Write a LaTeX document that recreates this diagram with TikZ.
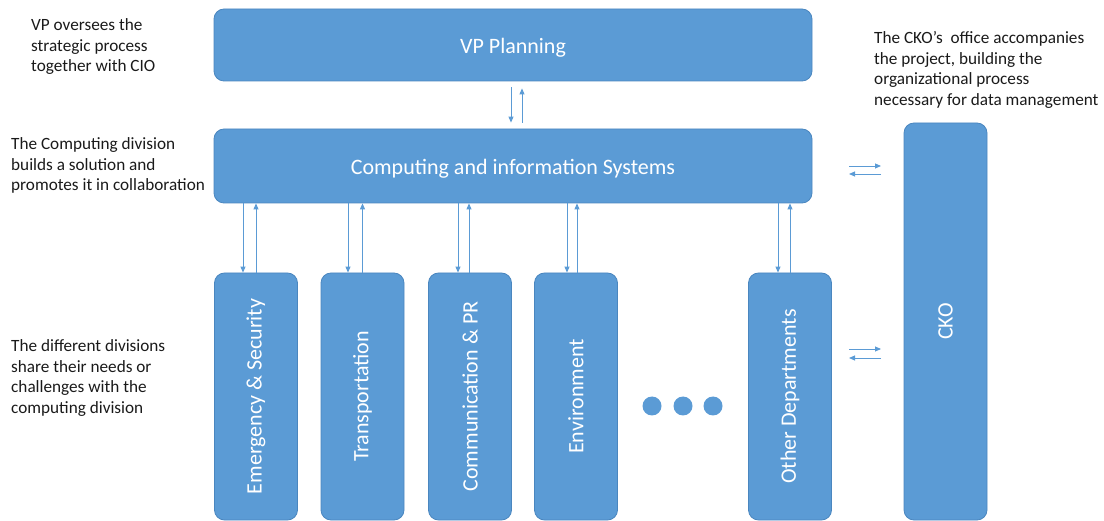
\documentclass[tikz,border=0pt]{standalone}
\usepackage{fontspec}
\setmainfont{Carlito}
\usetikzlibrary{arrows.meta}
\definecolor{boxfill}{HTML}{5B9BD5}
\definecolor{boxline}{HTML}{4A86BF}
\definecolor{arrcol}{HTML}{5B9BD5}
\definecolor{txt}{HTML}{1A1A1A}
\tikzset{
  box/.style={draw=boxline, line width=0.8pt, fill=boxfill, rounded corners=10pt, text=white, font=\fontsize{22}{26}\selectfont, inner sep=0pt},
  hbox/.style={box, minimum width=598pt, text height=20pt, text depth=3pt},
  vbox/.style={box, rotate=90, minimum width=247pt, minimum height=83pt},
  note/.style={anchor=north west, align=left, inner sep=0pt, text=txt, font=\fontsize{17.2}{20.5}\selectfont},
  arr/.style={draw=arrcol, line width=0.9pt, -{Triangle[length=6pt,width=5pt]}},
  dotnode/.style={circle, fill=boxfill, minimum size=19pt, inner sep=0pt}
}
\begin{document}
\begin{tikzpicture}[x=1pt,y=-1pt]
\useasboundingbox (0,0) rectangle (1104,521);
% main boxes
\node[hbox, minimum height=72pt] (vp) at (513,45) {VP Planning};
\node[hbox, minimum height=74pt] (cis) at (513,166) {Computing and information Systems};
\node[vbox] (em) at (256,396.5) {Emergency \& Security};
\node[vbox] (tr) at (362.5,396.5) {Transportation};
\node[vbox] (co) at (470,396.5) {Communication \& PR};
\node[vbox] (en) at (576,396.5) {Environment};
\node[vbox] (ot) at (790,396.5) {Other Departments};
\node[box, rotate=90, minimum width=397pt, minimum height=83pt] (cko) at (945.5,321.5) {CKO};
% dots
\node[dotnode] (d1) at (652,406) {};
\node[dotnode] (d2) at (683,406) {};
\node[dotnode] (d3) at (713,406) {};
% notes
\node[note] (n1) at (31,18.5) {VP oversees the\\strategic process\\together with CIO};
\node[note] (n2) at (11,137.5) {The Computing division\\builds a solution and\\promotes it in collaboration};
\node[note] (n3) at (11,339.5) {The different divisions\\share their needs or\\challenges with the\\computing division};
\node[note] (n4) at (874,31.5) {The CKO’s\ \ office accompanies\\the project, building the\\organizational process\\necessary for data management};
% VP <-> CIS
\draw[arr, shorten <=6pt, shorten >=6pt] ([xshift=-2pt]vp.south) -- ([xshift=-2pt]vp.south |- cis.north);
\draw[arr, shorten <=6pt, shorten >=7pt] ([xshift=9pt]vp.south |- cis.north) -- ([xshift=9pt]vp.south);
% CIS <-> departments
\draw[arr] ([xshift=-13pt]em.east |- cis.south) -- ([xshift=-13pt]em.east);
\draw[arr] (em.east) -- (em.east |- cis.south);
\draw[arr] ([xshift=-14.5pt]tr.east |- cis.south) -- ([xshift=-14.5pt]tr.east);
\draw[arr] (tr.east) -- (tr.east |- cis.south);
\draw[arr] ([xshift=-12pt]co.east |- cis.south) -- ([xshift=-12pt]co.east);
\draw[arr] ([xshift=-1pt]co.east) -- ([xshift=-1pt]co.east |- cis.south);
\draw[arr] ([xshift=-9pt]en.east |- cis.south) -- ([xshift=-9pt]en.east);
\draw[arr] ([xshift=1pt]en.east) -- ([xshift=1pt]en.east |- cis.south);
\draw[arr] ([xshift=-12pt]ot.east |- cis.south) -- ([xshift=-12pt]ot.east);
\draw[arr] (ot.east) -- (ot.east |- cis.south);
% CIS/Other <-> CKO (floating)
\coordinate (h1a) at (849,166);
\coordinate (h1b) at (881,166);
\coordinate (h2a) at (849,174);
\coordinate (h2b) at (881,174);
\coordinate (h3a) at (849,349);
\coordinate (h3b) at (881,349);
\coordinate (h4a) at (849,358);
\coordinate (h4b) at (881,358);
\draw[arr] (h1a) -- (h1b);
\draw[arr] (h2b) -- (h2a);
\draw[arr] (h3a) -- (h3b);
\draw[arr] (h4b) -- (h4a);
\end{tikzpicture}
\end{document}
